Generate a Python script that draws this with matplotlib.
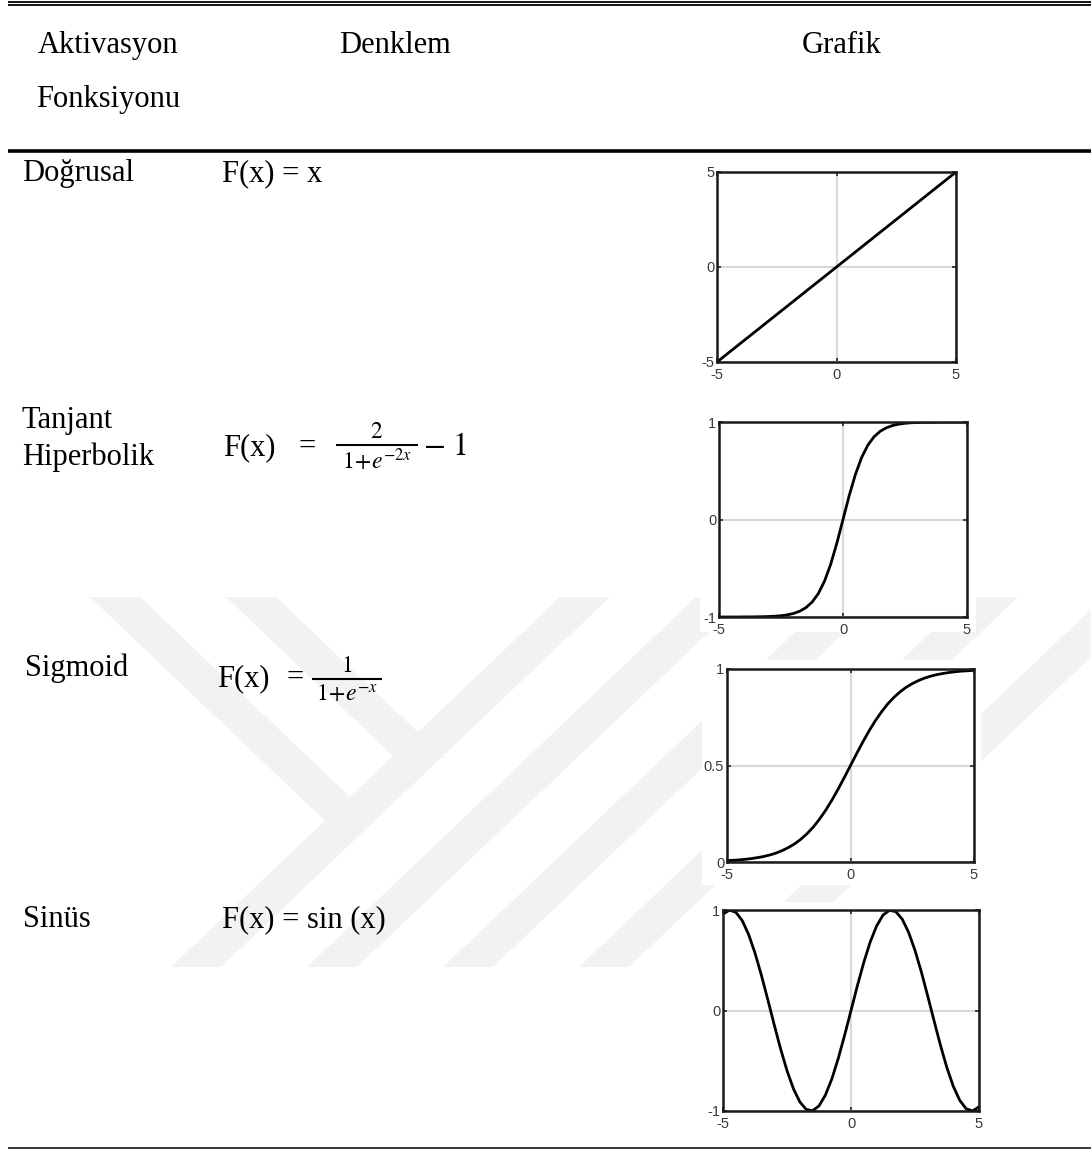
import matplotlib.pyplot as plt
from matplotlib.lines import Line2D
from matplotlib.patches import Polygon, Rectangle

plt.rcParams['font.family'] = 'Liberation Sans'
plt.rcParams['mathtext.fontset'] = 'stix'
plt.rcParams['axes.unicode_minus'] = False

W, H = 1091, 1149
SERIF = 'Liberation Serif'

# ---- table text ----
header_left = ['Aktivasyon', 'Fonksiyonu']
header_mid = 'Denklem'
header_right = 'Grafik'
row_names = ['Doğrusal', 'Tanjant', 'Hiperbolik', 'Sigmoid', 'Sinüs']

# ---- curve data ----
x_grid = [-5.0, -4.75, -4.5, -4.25, -4.0, -3.75, -3.5, -3.25, -3.0, -2.75,
          -2.5, -2.25, -2.0, -1.75, -1.5, -1.25, -1.0, -0.75, -0.5, -0.25,
          0.0, 0.25, 0.5, 0.75, 1.0, 1.25, 1.5, 1.75, 2.0, 2.25,
          2.5, 2.75, 3.0, 3.25, 3.5, 3.75, 4.0, 4.25, 4.5, 4.75, 5.0]

lin_x = [-5, 5]
lin_y = [-5, 5]

tanh_y = [-1.000, -1.000, -1.000, -1.000, -0.999, -0.999, -0.998, -0.997, -0.995, -0.992,
          -0.987, -0.978, -0.964, -0.941, -0.905, -0.848, -0.762, -0.635, -0.462, -0.245,
          0.0, 0.245, 0.462, 0.635, 0.762, 0.848, 0.905, 0.941, 0.964, 0.978,
          0.987, 0.992, 0.995, 0.997, 0.998, 0.999, 0.999, 1.000, 1.000, 1.000, 1.000]

sigmoid_y = [0.007, 0.009, 0.011, 0.014, 0.018, 0.023, 0.029, 0.037, 0.047, 0.060,
             0.076, 0.095, 0.119, 0.148, 0.182, 0.223, 0.269, 0.321, 0.378, 0.438,
             0.500, 0.562, 0.622, 0.679, 0.731, 0.777, 0.818, 0.852, 0.881, 0.905,
             0.924, 0.940, 0.953, 0.963, 0.971, 0.977, 0.982, 0.986, 0.989, 0.991, 0.993]

sin_y = [0.959, 0.999, 0.978, 0.895, 0.757, 0.572, 0.351, 0.108, -0.141, -0.382,
         -0.598, -0.778, -0.909, -0.984, -0.997, -0.949, -0.841, -0.682, -0.479, -0.247,
         0.0, 0.247, 0.479, 0.682, 0.841, 0.949, 0.997, 0.984, 0.909, 0.778,
         0.598, 0.382, 0.141, -0.108, -0.351, -0.572, -0.757, -0.895, -0.978, -0.999, -0.959]

x_ticks = [-5, 0, 5]
x_ticklabels = ['-5', '0', '5']

fig = plt.figure(figsize=(W / 100, H / 100), dpi=100)
fig.patch.set_facecolor('white')


def fx(x):
    return x / W


def fy(y):
    return 1 - y / H


def put(x, y, s, size=22, ha='left'):
    fig.text(fx(x), fy(y), s, fontsize=size, ha=ha, va='baseline', family=SERIF, color='black')


def hline(x0, x1, y, lw):
    fig.add_artist(Line2D([fx(x0), fx(x1)], [fy(y), fy(y)], lw=lw, color='black',
                          solid_capstyle='butt'))


# faint watermark stripes behind the table
WM = '#f2f2f2'
for x0 in [171, 307, 443, 579, 715]:
    pts = [(x0, 967), (x0 + 50, 967), (x0 + 50 + 389, 597), (x0 + 389, 597)]
    fig.add_artist(Polygon([(fx(a), fy(b)) for a, b in pts], closed=True,
                           facecolor=WM, edgecolor='none', zorder=-2))
for top_x, end_y in [(90, 820), (226, 758)]:
    d = 1.05 * (end_y - 597)
    pts = [(top_x, 597), (top_x + 50, 597), (top_x + 50 + d, end_y), (top_x + d, end_y)]
    fig.add_artist(Polygon([(fx(a), fy(b)) for a, b in pts], closed=True,
                           facecolor=WM, edgecolor='none', zorder=-2))

# table rules
hline(8, 1091, 1.8, 1.3)
hline(8, 1091, 4.9, 1.3)
hline(8, 1091, 150.5, 2.6)
hline(8, 1091, 1147.5, 1.1)

# header
put(108, 53, header_left[0], ha='center')
put(108, 107, header_left[1], ha='center')
put(395, 53, header_mid, ha='center')
put(842, 53, header_right, ha='center')

# row 1
put(22, 181, row_names[0])
put(222, 181, 'F(x) = x')

# row 2
put(22, 428, row_names[1])
put(22, 465, row_names[2])
put(223, 455, 'F(x)')
put(298, 455, '=')
put(377, 438, r'$2$', size=17, ha='center')
hline(336, 418, 445, 1.5)
put(377, 469, r'$1\!+\!e^{-2x}$', size=17, ha='center')
put(423, 455, r'$-\ 1$', size=23)

# row 3
put(25, 676, row_names[3])
put(217, 686, 'F(x)')
put(286, 686, '=')
put(347, 672, r'$1$', size=17, ha='center')
hline(312, 382, 679, 1.5)
put(347, 702, r'$1\!+\!e^{-x}$', size=17, ha='center')

# row 4
put(23, 927, row_names[4])
put(222, 927, 'F(x) = sin (x)')


def panel(box, bg, xs, ys, yticks, ylabels, ylim):
    l, t, r, b = bg
    fig.add_artist(Rectangle((fx(l), fy(b)), (r - l) / W, (b - t) / H,
                             facecolor='white', edgecolor='none', zorder=-1))
    l, t, r, b = box
    ax = fig.add_axes([fx(l), fy(b), (r - l) / W, (b - t) / H])
    ax.plot(xs, ys, color='black', lw=2.0, solid_joinstyle='round')
    ax.set_xlim(-5, 5)
    ax.set_ylim(*ylim)
    ax.set_xticks(x_ticks)
    ax.set_xticklabels(x_ticklabels)
    ax.set_yticks(yticks)
    ax.set_yticklabels(ylabels)
    ax.grid(True, color='#d9d9d9', lw=1.5)
    ax.tick_params(direction='in', length=3, width=1.2, color='#262626',
                   labelcolor='#3a3a3a', labelsize=10.5, top=True, right=True)
    ax.tick_params(axis='x', pad=4)
    ax.tick_params(axis='y', pad=2)
    for s in ax.spines.values():
        s.set_linewidth(1.8)
        s.set_color('#1a1a1a')
    return ax


panel((717, 172, 956, 362), (698, 160, 975, 388), lin_x, lin_y,
      [-5, 0, 5], ['-5', '0', '5'], (-5, 5))
panel((719, 422, 967, 617), (700, 410, 976, 632), x_grid, tanh_y,
      [-1, 0, 1], ['-1', '0', '1'], (-1, 1))
panel((727, 669, 974, 862), (702, 660, 981, 885), x_grid, sigmoid_y,
      [0, 0.5, 1], ['0', '0.5', '1'], (0, 1))
panel((723, 910, 979, 1111), (702, 902, 987, 1140), x_grid, sin_y,
      [-1, 0, 1], ['-1', '0', '1'], (-1, 1))

fig.savefig('out.png', dpi=100)
